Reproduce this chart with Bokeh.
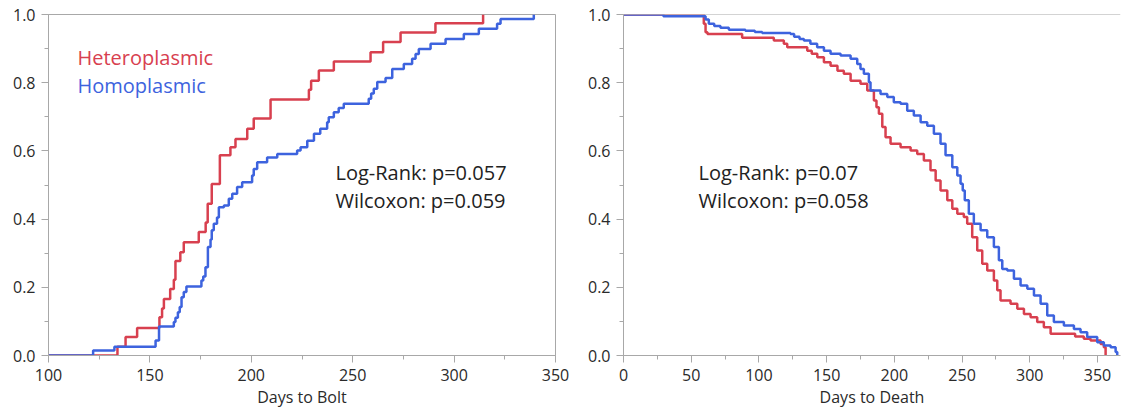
from bokeh.plotting import figure
from bokeh.layouts import row
from bokeh.models import SingleIntervalTicker, NumeralTickFormatter, Range1d, Span
from bokeh.core.properties import value
from bokeh.embed import file_html
from bokeh.resources import INLINE

# ---------------- data ----------------
# Left panel: cumulative proportion bolted (step after each event)
bolt_het_days = [100, 134, 138, 143.7, 154.7, 156, 156.9, 160, 161.8, 162.6, 165, 166.7,
                 174.1, 177.5, 178.5, 180.5, 184.5, 189.7, 192.2, 198, 201.2, 209.5,
                 228.4, 229.5, 233.3, 240.7, 258.8, 265, 273.6, 290.8, 314.3]
bolt_het_prop = [0, 0.026, 0.054, 0.081, 0.112, 0.138, 0.166, 0.195, 0.222, 0.277, 0.303, 0.332,
                 0.362, 0.39, 0.445, 0.503, 0.587, 0.611, 0.635, 0.665, 0.695, 0.751,
                 0.779, 0.806, 0.836, 0.862, 0.889, 0.919, 0.947, 0.974, 1.0]

bolt_hom_days = [100, 122, 132.5, 152.8, 154.5, 161.8, 162.6, 163.8, 164.7, 165.6, 166.7, 168,
                 175.4, 176.3, 177.4, 178.6, 179.9, 180.5, 181.5, 183.1, 184, 186.5, 188.9,
                 190.6, 193, 195.5, 200.4, 201.2, 202.9, 207.8, 212.8, 222.6, 224.3, 227.6,
                 230.9, 234, 237.4, 238.2, 240.7, 243.1, 245.6, 257.9, 259.1, 260.4, 262.1,
                 266.2, 269.5, 275.2, 279.3, 281, 282.6, 288.4, 295.8, 304.8, 312.2, 321.2,
                 322.9, 339.3]
bolt_hom_prop = [0, 0.015, 0.026, 0.044, 0.085, 0.098, 0.111, 0.127, 0.142, 0.171, 0.186, 0.202,
                 0.220, 0.232, 0.259, 0.318, 0.34, 0.367, 0.386, 0.405, 0.435, 0.440, 0.460,
                 0.474, 0.494, 0.508, 0.528, 0.547, 0.567, 0.581, 0.591, 0.601, 0.611, 0.630,
                 0.650, 0.665, 0.684, 0.699, 0.713, 0.726, 0.738, 0.753, 0.768, 0.782, 0.802,
                 0.814, 0.840, 0.855, 0.870, 0.884, 0.899, 0.914, 0.928, 0.943, 0.958, 0.973,
                 0.987, 1.0]

# Right panel: survival proportion
death_het_days = [0, 59.3, 60.6, 62, 87.6, 111, 118.4, 120.9, 135.7, 139, 143.1, 148, 152.9,
                  158, 162.7, 167.7, 175, 180, 184.9, 186.8, 188.6, 191.1, 193.5, 197.2, 204.6,
                  212, 216.9, 221.8, 226.7, 230.5, 234.1, 239.1, 242.8, 246.5, 251.3, 253.8,
                  257.5, 261.2, 264.9, 268.6, 273.5, 276, 278.4, 285.8, 290.8, 295.7, 300.6,
                  305.5, 310.4, 315.4, 333.5, 339.9, 344.9, 352.3, 354.7, 356]
death_het_surv = [1.0, 0.973, 0.948, 0.943, 0.932, 0.924, 0.914, 0.904, 0.894, 0.885, 0.875,
                  0.86, 0.85, 0.835, 0.826, 0.806, 0.797, 0.777, 0.748, 0.728, 0.709, 0.670,
                  0.640, 0.621, 0.611, 0.601, 0.591, 0.572, 0.543, 0.513, 0.484, 0.455, 0.430,
                  0.416, 0.406, 0.386, 0.347, 0.308, 0.269, 0.249, 0.220, 0.191, 0.161, 0.152,
                  0.137, 0.122, 0.112, 0.098, 0.083, 0.064, 0.056, 0.049, 0.044, 0.034, 0.024,
                  0.0]

death_hom_days = [0, 29.5, 60.6, 63, 67, 71.6, 77.8, 90, 97, 102.4, 123.3, 126, 130, 133.2, 138,
                  143, 148, 152.9, 160.3, 167.7, 172.6, 175, 177.5, 181.2, 182.4, 189.8, 194.8,
                  199.6, 204.6, 209.5, 214.4, 219.4, 224.3, 229.2, 234.1, 237.8, 242.8, 246.5,
                  248.9, 250.5, 252, 255, 258.7, 263.7, 268.6, 273.5, 277.2, 279.7, 283.4,
                  288.3, 293.2, 298.2, 303.1, 308, 312.9, 317.8, 325.2, 332.6, 337.5, 342.4,
                  349.8, 354.7, 359.7, 363.4, 364.6]
death_hom_surv = [1.0, 0.995, 0.985, 0.973, 0.966, 0.961, 0.955, 0.952, 0.949, 0.946, 0.943,
                  0.935, 0.928, 0.924, 0.914, 0.904, 0.894, 0.885, 0.880, 0.870, 0.855, 0.840,
                  0.826, 0.801, 0.777, 0.767, 0.758, 0.743, 0.738, 0.718, 0.704, 0.684, 0.674,
                  0.650, 0.621, 0.587, 0.552, 0.528, 0.504, 0.484, 0.455, 0.416, 0.386, 0.367,
                  0.347, 0.318, 0.279, 0.254, 0.249, 0.225, 0.205, 0.196, 0.176, 0.152, 0.117,
                  0.098, 0.088, 0.078, 0.068, 0.054, 0.039, 0.029, 0.024, 0.010, 0.0]

group_labels = ["Heteroplasmic", "Homoplasmic"]
left_stats = ["Log-Rank: p=0.057", "Wilcoxon: p=0.059"]
right_stats = ["Log-Rank: p=0.07", "Wilcoxon: p=0.058"]

# ---------------- style ----------------
RED = "#D8404F"
BLUE = "#3D63DE"
AXIS = "#A8A8A8"
FONT = "Open Sans"


def style(p, xlabel):
    p.xaxis.ticker = SingleIntervalTicker(interval=50, num_minor_ticks=2)
    p.yaxis.ticker = SingleIntervalTicker(interval=0.2, num_minor_ticks=2)
    p.yaxis.formatter = NumeralTickFormatter(format="0.0")
    p.xaxis.axis_label = xlabel
    for ax in [p.xaxis[0], p.yaxis[0]]:
        ax.axis_line_color = AXIS
        ax.major_tick_line_color = AXIS
        ax.minor_tick_line_color = AXIS
        ax.major_tick_out = 7
        ax.major_tick_in = 0
        ax.minor_tick_out = 4
        ax.minor_tick_in = 0
        ax.major_label_text_font = FONT
        ax.major_label_text_font_size = "16px"
        ax.major_label_text_color = "#2A2A2A"
        ax.axis_label_text_font = FONT
        ax.axis_label_text_font_size = "16px"
        ax.axis_label_text_font_style = "normal"
        ax.axis_label_text_color = "#2A2A2A"
        ax.axis_label_standoff = 2
    p.xaxis[0].major_label_standoff = 6
    p.yaxis[0].major_label_standoff = 6
    p.xgrid.visible = False
    p.ygrid.visible = False
    p.background_fill_color = "white"
    p.border_fill_color = "white"
    p.min_border_top = 14
    p.min_border_bottom = 55


p1 = figure(width=580, height=410, output_backend="svg", toolbar_location=None,
            x_range=Range1d(100, 350), y_range=Range1d(0, 1))
style(p1, "Days to Bolt")
p1.min_border_left = 48
p1.min_border_right = 25
p1.outline_line_color = AXIS
p1.outline_line_width = 1

p1.step(bolt_het_days, bolt_het_prop, mode="after", line_color=RED, line_width=2.5)
p1.step(bolt_hom_days, bolt_hom_prop, mode="after", line_color=BLUE, line_width=2.5)

p1.text(x=[114.3, 114.3], y=[0.875, 0.792], text=group_labels,
        text_color=[RED, BLUE], text_font=value(FONT), text_font_size="20px",
        text_baseline="alphabetic", text_align="left")
p1.text(x=[241.5, 241.5], y=[0.537, 0.455], text=left_stats,
        text_color="#222222", text_font=value(FONT), text_font_size="20px",
        text_baseline="alphabetic", text_align="left")

p2 = figure(width=544, height=410, output_backend="svg", toolbar_location=None,
            x_range=Range1d(0, 367), y_range=Range1d(0, 1))
style(p2, "Days to Death")
p2.min_border_left = 43
p2.min_border_right = 4
p2.outline_line_color = None
p2.add_layout(Span(location=1.0, dimension="width", line_color=AXIS, line_width=1))

p2.step(death_het_days, death_het_surv, mode="after", line_color=RED, line_width=2.5)
p2.step(death_hom_days, death_hom_surv, mode="after", line_color=BLUE, line_width=2.5)

p2.text(x=[55.4, 55.4], y=[0.537, 0.455], text=right_stats,
        text_color="#222222", text_font=value(FONT), text_font_size="20px",
        text_baseline="alphabetic", text_align="left")

layout = row(p1, p2)
open("out.html", "w").write(file_html(layout, INLINE))
